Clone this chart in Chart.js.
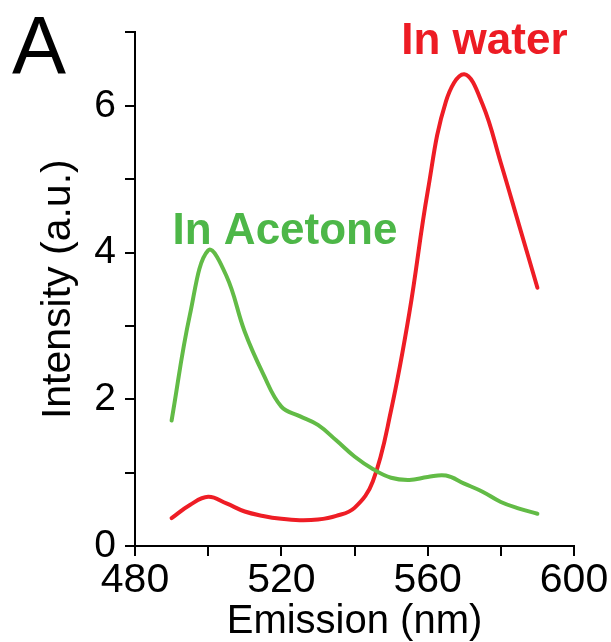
<!DOCTYPE html>
<html>
<head>
<meta charset="utf-8">
<script src="https://cdn.jsdelivr.net/npm/chart.js@4/dist/chart.umd.min.js"></script>
<style>
  html, body { margin: 0; padding: 0; background: #fff; }
  #box { width: 611px; height: 642px; }
</style>
</head>
<body>
<div id="box"><canvas id="myChart"></canvas></div>
<script>
// emission wavelengths (nm)
const wavelengths = [490, 495, 500, 505, 510, 515, 520, 525, 530, 535, 540,
  545, 550, 555, 560, 565, 570, 575, 580, 585, 590];

// intensity (a.u.)
const acetone = [1.71, 3.15, 4.03, 3.68, 2.92, 2.35, 1.90, 1.77, 1.65, 1.44, 1.22,
  1.05, 0.93, 0.90, 0.94, 0.96, 0.85, 0.74, 0.60, 0.51, 0.44];
const water = [0.38, 0.56, 0.67, 0.58, 0.47, 0.41, 0.37, 0.35, 0.36, 0.41, 0.52,
  0.88, 1.85, 3.18, 4.83, 6.06, 6.43, 6.02, 5.22, 4.37, 3.52];

const xTicks = [480, 520, 560, 600];
const yTicks = [0, 2, 4, 6];

// text labels placed in data space
const seriesLabels = [
  { text: "In water", x: 575.5, y: 6.71, color: "#ed1c24" },
  { text: "In Acetone", x: 521, y: 4.12, color: "#4db748" },
];

const FONT = "'Liberation Sans', Arial, sans-serif";
const red = "#ee1d25";
const green = "#62bb46";

function toPoints(ys) {
  return wavelengths.map((w, i) => ({ x: w, y: ys[i] }));
}

// draws the panel letter and the series names
const labelPlugin = {
  id: "labels",
  afterDraw(chart) {
    const ctx = chart.ctx;
    const xs = chart.scales.x;
    const ys = chart.scales.y;
    ctx.save();
    ctx.textBaseline = "alphabetic";
    ctx.fillStyle = "#000";
    ctx.font = "81px " + FONT;
    ctx.textAlign = "left";
    ctx.fillText("A", 12, 73);

    ctx.textAlign = "center";
    ctx.font = "bold 44px " + FONT;
    seriesLabels.forEach((l) => {
      ctx.fillStyle = l.color;
      ctx.fillText(l.text, xs.getPixelForValue(l.x), ys.getPixelForValue(l.y));
    });
    ctx.restore();
  },
};

const data = {
  datasets: [
    {
      label: "In Acetone",
      data: toPoints(acetone),
      borderColor: green,
      borderWidth: 4,
      pointRadius: 0,
      tension: 0.4,
      borderCapStyle: "round",
    },
    {
      label: "In water",
      data: toPoints(water),
      borderColor: red,
      borderWidth: 4,
      pointRadius: 0,
      tension: 0.4,
      borderCapStyle: "round",
    },
  ],
};

const config = {
  type: "line",
  data,
  options: {
    responsive: true,
    maintainAspectRatio: false,
    animation: false,
    layout: { padding: { top: 31, right: 37, left: 0, bottom: 0 } },
    plugins: {
      legend: { display: false },
      tooltip: { enabled: false },
    },
    scales: {
      x: {
        type: "linear",
        min: 480,
        max: 600,
        afterFit: (scale) => { scale.height = 96; },
        border: { display: true, color: "#000", width: 2 },
        grid: { drawOnChartArea: false, drawTicks: true, tickLength: 10, color: "#000", lineWidth: 2 },
        ticks: {
          stepSize: 20,
          autoSkip: false,
          maxRotation: 0,
          padding: 0,
          color: "#000",
          font: { family: FONT, size: 41 },
          callback: (v) => (xTicks.includes(v) ? String(v) : ""),
        },
        title: {
          display: true,
          text: "Emission (nm)",
          color: "#000",
          font: { family: FONT, size: 40, lineHeight: 1 },
          padding: { top: 0, bottom: 0 },
        },
      },
      y: {
        min: 0,
        max: 7,
        afterFit: (scale) => { scale.width = 135; },
        border: { display: true, color: "#000", width: 2 },
        grid: { drawOnChartArea: false, drawTicks: true, tickLength: 10, color: "#000", lineWidth: 2 },
        ticks: {
          stepSize: 1,
          autoSkip: false,
          padding: 9,
          color: "#000",
          font: { family: FONT, size: 39 },
          callback: (v) => (yTicks.includes(v) ? String(v) : ""),
        },
        title: {
          display: true,
          text: "Intensity (a.u.)",
          color: "#000",
          font: { family: FONT, size: 41, lineHeight: 1 },
          padding: { top: 38, bottom: 0 },
        },
      },
    },
  },
  plugins: [labelPlugin],
};

const myChart = new Chart(document.getElementById("myChart"), config);
</script>
</body>
</html>
